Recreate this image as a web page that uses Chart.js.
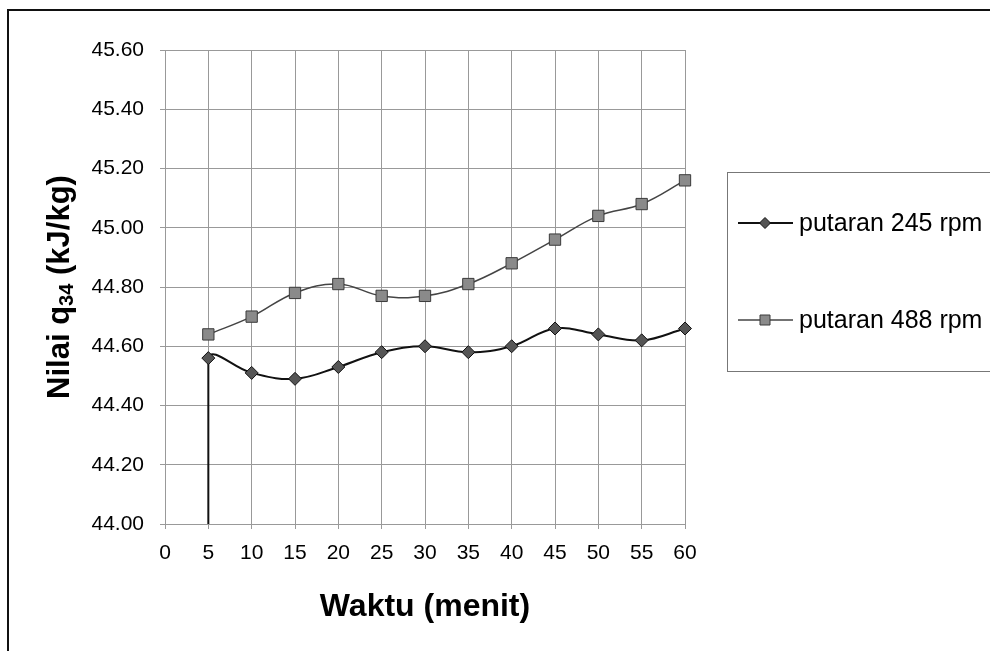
<!DOCTYPE html>
<html>
<head>
<meta charset="utf-8">
<script src="https://cdn.jsdelivr.net/npm/chart.js@4.4.1/dist/chart.umd.min.js"></script>
<style>
    html, body { margin: 0; padding: 0; background: #fff; overflow: hidden; }
    #wrap { position: relative; width: 990px; height: 651px; }
    #frame {
        position: absolute; left: 7px; top: 9px; width: 1000px; height: 700px;
        border-left: 2px solid #111; border-top: 2px solid #111;
    }
    #q34Chart { position: absolute; left: 0; top: 0; }
</style>
</head>
<body>
<div id="wrap">
    <div id="frame"></div>
    <canvas id="q34Chart" width="990" height="651"></canvas>
</div>
<script>
// data
const waktu = [5, 10, 15, 20, 25, 30, 35, 40, 45, 50, 55, 60];
const putaran245 = [44.56, 44.51, 44.49, 44.53, 44.58, 44.60, 44.58, 44.60, 44.66, 44.64, 44.62, 44.66];
const putaran488 = [44.64, 44.70, 44.78, 44.81, 44.77, 44.77, 44.81, 44.88, 44.96, 45.04, 45.08, 45.16];
// the 245 rpm line starts down on the x axis at t = 5 (vertical stroke in the original)
const awal245 = { x: 5, y: 44.00 };
const labelSeri = ['putaran 245 rpm', 'putaran 488 rpm'];
const xTicks = [0, 5, 10, 15, 20, 25, 30, 35, 40, 45, 50, 55, 60];
const yTicks = [44.00, 44.20, 44.40, 44.60, 44.80, 45.00, 45.20, 45.40, 45.60];

const FONT = "'Liberation Sans', Arial, sans-serif";

function toPoints(xs, ys) {
    return xs.map((x, i) => ({ x: x, y: ys[i] }));
}

// y title with a real subscript
const yTitlePlugin = {
    id: 'yTitle',
    afterDraw(chart) {
        const ctx = chart.ctx;
        const area = chart.chartArea;
        ctx.save();
        ctx.translate(60, (area.top + area.bottom) / 2);
        ctx.rotate(-Math.PI / 2);
        ctx.fillStyle = '#000';
        ctx.textBaseline = 'middle';
        const big = 'bold 31px ' + FONT;
        const small = 'bold 20px ' + FONT;
        const parts = [['Nilai q', big, 0], ['34', small, 7], [' (kJ/kg)', big, 0]];
        let total = 0;
        parts.forEach(p => { ctx.font = p[1]; total += ctx.measureText(p[0]).width; });
        let x = -total / 2;
        parts.forEach(p => {
            ctx.font = p[1];
            ctx.textAlign = 'left';
            ctx.fillText(p[0], x, p[2]);
            x += ctx.measureText(p[0]).width;
        });
        ctx.restore();
    }
};

// boxed legend on the right, like the Excel original
const boxLegendPlugin = {
    id: 'boxLegend',
    afterDraw(chart) {
        const ctx = chart.ctx;
        ctx.save();
        ctx.strokeStyle = '#777';
        ctx.lineWidth = 1;
        ctx.strokeRect(727.5, 172.5, 300, 199);
        const rows = [223, 320];
        chart.data.datasets.slice(0, 2).forEach((ds, i) => {
            const y = rows[i];
            ctx.strokeStyle = ds.borderColor;
            ctx.lineWidth = ds.borderWidth;
            ctx.beginPath();
            ctx.moveTo(738, y);
            ctx.lineTo(793, y);
            ctx.stroke();
            ctx.fillStyle = ds.pointBackgroundColor;
            ctx.strokeStyle = ds.pointBorderColor;
            ctx.lineWidth = 1;
            ctx.beginPath();
            if (ds.pointStyle === 'rectRot') {
                const r = 5.5;
                ctx.moveTo(765, y - r);
                ctx.lineTo(765 + r, y);
                ctx.lineTo(765, y + r);
                ctx.lineTo(765 - r, y);
                ctx.closePath();
            } else {
                ctx.rect(760, y - 5, 10, 10);
            }
            ctx.fill();
            ctx.stroke();
            ctx.fillStyle = '#000';
            ctx.font = '25px ' + FONT;
            ctx.textAlign = 'left';
            ctx.textBaseline = 'middle';
            ctx.fillText(ds.label, 799, y + 1);
        });
        ctx.restore();
    }
};

const ctx = document.getElementById('q34Chart').getContext('2d');

const data245 = [awal245].concat(toPoints(waktu, putaran245));
const radius245 = data245.map((p, i) => (i === 0 ? 0 : 6.5));

new Chart(ctx, {
    type: 'line',
    data: {
        datasets: [
            {
                label: labelSeri[0],
                data: data245,
                borderColor: '#111',
                borderWidth: 2,
                pointStyle: 'rectRot',
                pointRadius: radius245,
                pointBackgroundColor: '#555',
                pointBorderColor: '#111',
                pointBorderWidth: 1,
                tension: 0.4,
                clip: false,
                fill: false,
                // first (vertical) piece is drawn straight by the helper dataset below
                segment: { borderColor: c => (c.p0DataIndex === 0 ? 'rgba(0,0,0,0)' : undefined) }
            },
            {
                label: labelSeri[1],
                data: toPoints(waktu, putaran488),
                borderColor: '#444',
                borderWidth: 1.5,
                pointStyle: 'rect',
                pointRadius: 8,
                pointBackgroundColor: '#8a8a8a',
                pointBorderColor: '#3a3a3a',
                pointBorderWidth: 1,
                tension: 0.4,
                clip: false,
                fill: false
            },
            {
                label: 'awal 245',
                data: [awal245, { x: waktu[0], y: putaran245[0] }],
                borderColor: '#111',
                borderWidth: 2,
                pointRadius: 0,
                tension: 0,
                fill: false
            }
        ]
    },
    options: {
        responsive: false,
        animation: false,
        layout: {
            padding: { left: 0, right: 305, top: 50, bottom: 0 }
        },
        plugins: {
            legend: { display: false },
            tooltip: { enabled: false }
        },
        scales: {
            x: {
                type: 'linear',
                min: xTicks[0],
                max: xTicks[xTicks.length - 1],
                afterBuildTicks: scale => { scale.ticks = xTicks.map(v => ({ value: v })); },
                afterFit: scale => { scale.height = 127; },
                ticks: {
                    color: '#000',
                    font: { family: FONT, size: 21 },
                    padding: 12,
                    maxRotation: 0,
                    autoSkip: false
                },
                grid: { color: '#999', lineWidth: 1, tickLength: 5 },
                border: { color: '#999' },
                title: {
                    display: true,
                    text: 'Waktu (menit)',
                    color: '#000',
                    font: { family: FONT, size: 32, weight: 'bold' },
                    padding: { top: 4, bottom: 25 }
                }
            },
            y: {
                type: 'linear',
                min: yTicks[0],
                max: yTicks[yTicks.length - 1],
                afterBuildTicks: scale => { scale.ticks = yTicks.map(v => ({ value: v })); },
                afterFit: scale => { scale.width = 165; },
                ticks: {
                    color: '#000',
                    font: { family: FONT, size: 21 },
                    padding: 16,
                    autoSkip: false,
                    callback: v => Number(v).toFixed(2)
                },
                grid: { color: '#999', lineWidth: 1, tickLength: 5 },
                border: { color: '#999' }
            }
        }
    },
    plugins: [yTitlePlugin, boxLegendPlugin]
});
</script>
</body>
</html>
